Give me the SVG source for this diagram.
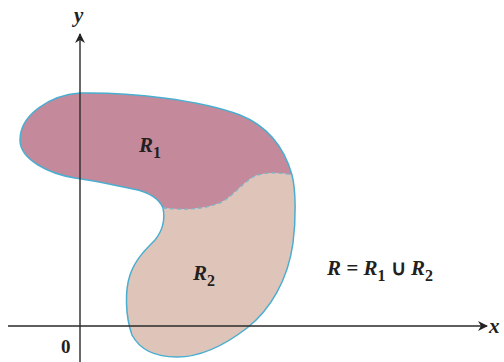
<svg xmlns="http://www.w3.org/2000/svg" width="504" height="362" viewBox="0 0 504 362">
<defs>
<style>
.lbl{font-family:"Liberation Serif",serif;font-style:italic;font-weight:bold;fill:#231f20}
.sub{font-family:"Liberation Serif",serif;font-weight:bold;fill:#231f20}
.axis{stroke:#2a2a2a;stroke-width:1.4;fill:none}
.outline{stroke:#4aaed0;stroke-width:1.5;fill:none}
</style>
<marker id="arr" viewBox="0 0 10 10" refX="9" refY="5" markerWidth="10" markerHeight="10" markerUnits="userSpaceOnUse" orient="auto">
<path d="M0,0 L10,5 L0,10 L3,5 Z" fill="#222"/>
</marker>
</defs>
<rect width="504" height="362" fill="#fff"/>
<g id="R2">
<path d="M163,208 C180,210 200,210 217,204 C230,200 240,185 253,177 C262,172 280,172 292,175 C296,190 296,220 293,243 C288,280 270,310 247,328 C225,345 200,357 177,357 C155,357 140,350 132,335 C125,315 125,290 130,275 C135,260 145,250 155,240 C163,230 165,218 163,208 Z" fill="#dfc5b9"/>
<text class="lbl" x="193" y="280" font-size="21">R<tspan class="sub" font-size="16" dy="6" font-style="normal">2</tspan></text>
</g>
<g id="R1">
<path d="M163,208 C160,200 150,192 133,189 C110,184 90,180 75,178 C50,174 20,160 20,140 C20,115 50,95 80,93 C130,92 200,100 240,115 C270,127 285,150 292,175 C280,172 262,172 253,177 C240,185 230,200 217,204 C200,210 180,210 163,208 Z" fill="#c4899b"/>
<text class="lbl" x="139" y="152" font-size="21">R<tspan class="sub" font-size="16" dy="6" font-style="normal">1</tspan></text>
</g>
<g id="outline">
<path class="outline" d="M163,208 C160,200 150,192 133,189 C110,184 90,180 75,178 C50,174 20,160 20,140 C20,115 50,95 80,93 C130,92 200,100 240,115 C270,127 285,150 292,175 C296,190 296,220 293,243 C288,280 270,310 247,328 C225,345 200,357 177,357 C155,357 140,350 132,335 C125,315 125,290 130,275 C135,260 145,250 155,240 C163,230 165,218 163,208"/>
<path d="M163,208 C180,210 200,210 217,204 C230,200 240,185 253,177 C262,172 280,172 292,175" stroke="#7fb6c8" stroke-width="1.3" stroke-dasharray="4 3" fill="none"/>
</g>
<g id="connectors">
<line class="axis" x1="80" y1="362" x2="80" y2="34" marker-end="url(#arr)"/>
<line class="axis" x1="8" y1="326" x2="487" y2="326" marker-end="url(#arr)"/>
</g>
<g id="labels">
<text class="lbl" x="74" y="22" font-size="21">y</text>
<text class="lbl" x="489" y="333" font-size="21">x</text>
<text class="sub" x="61" y="353" font-size="19">0</text>
<text class="lbl" x="327" y="275" font-size="21">R = R<tspan class="sub" font-size="16" dy="6" font-style="normal">1</tspan><tspan dy="-6" font-style="normal"> ∪ </tspan>R<tspan class="sub" font-size="16" dy="6" font-style="normal">2</tspan></text>
</g>
</svg>
